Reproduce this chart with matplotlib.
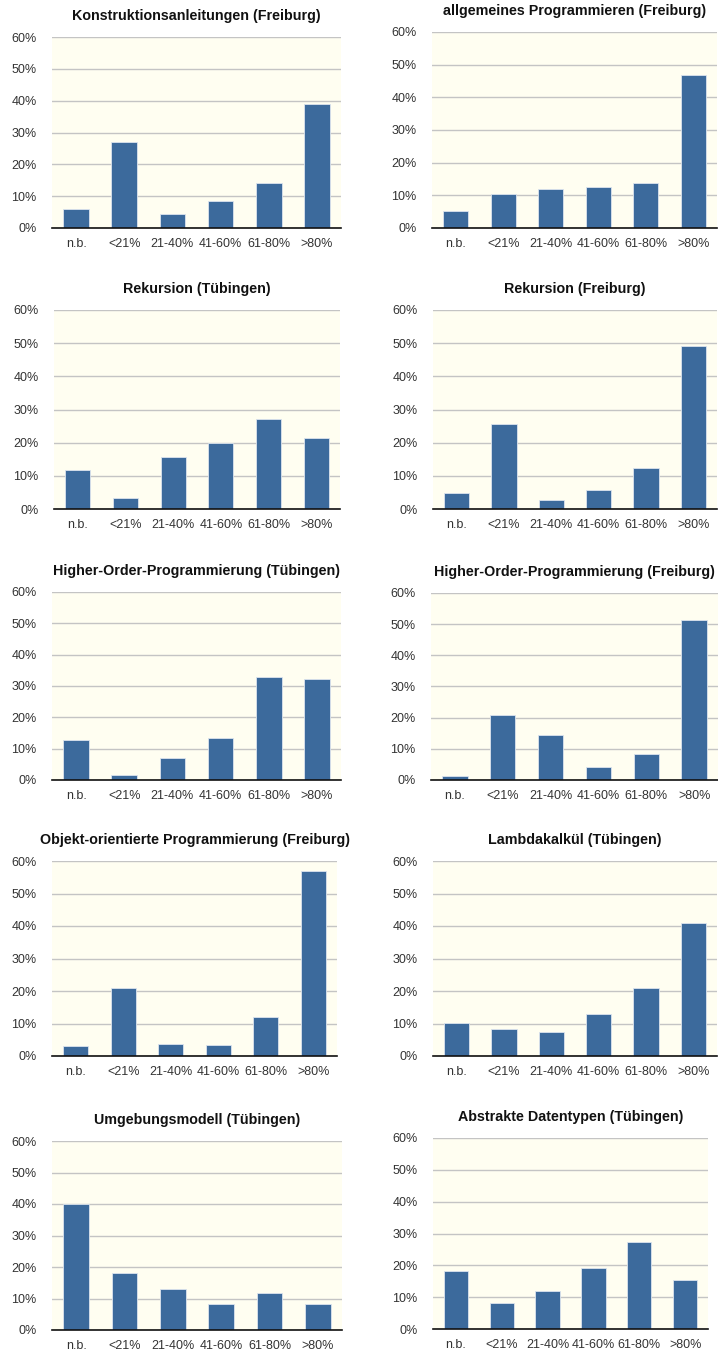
import matplotlib.pyplot as plt
from matplotlib.ticker import FuncFormatter

# categories on the x axis (self-assessed share)
categories = ['n.b.', '<21%', '21-40%', '41-60%', '61-80%', '>80%']

# values in percent
konstruktion_freiburg = [6.1, 27.1, 4.3, 8.6, 14.2, 39.0]
allgemein_freiburg = [5.2, 10.5, 11.9, 12.6, 13.7, 46.7]
rekursion_tuebingen = [11.7, 3.3, 15.6, 19.8, 27.1, 21.5]
rekursion_freiburg = [4.7, 25.5, 2.6, 5.7, 12.4, 49.0]
hop_tuebingen = [12.7, 1.5, 7.1, 13.4, 32.8, 32.1]
hop_freiburg = [1.3, 20.7, 14.4, 4.2, 8.2, 51.4]
oop_freiburg = [3.0, 21.0, 3.7, 3.3, 12.1, 56.8]
lambda_tuebingen = [10.1, 8.3, 7.3, 12.8, 20.9, 40.8]
umgebung_tuebingen = [40.0, 18.0, 13.0, 8.4, 11.6, 8.1]
adt_tuebingen = [18.1, 8.1, 11.9, 19.1, 27.2, 15.4]

titles = ['Konstruktionsanleitungen (Freiburg)', 'allgemeines Programmieren (Freiburg)',
          'Rekursion (Tübingen)', 'Rekursion (Freiburg)',
          'Higher-Order-Programmierung (Tübingen)', 'Higher-Order-Programmierung (Freiburg)',
          'Objekt-orientierte Programmierung (Freiburg)', 'Lambdakalkül (Tübingen)',
          'Umgebungsmodell (Tübingen)', 'Abstrakte Datentypen (Tübingen)']
series = [konstruktion_freiburg, allgemein_freiburg, rekursion_tuebingen, rekursion_freiburg,
          hop_tuebingen, hop_freiburg, oop_freiburg, lambda_tuebingen,
          umgebung_tuebingen, adt_tuebingen]

# axes boxes in pixels: left, right, top, bottom
boxes = [(52, 341, 37, 228), (432, 717, 32, 228),
         (54, 340, 310, 509), (433, 717, 310, 509),
         (52, 341, 592, 780), (431, 718, 593, 780),
         (52, 337, 861, 1056), (433, 717, 861, 1056),
         (52, 342, 1141, 1330), (433, 708, 1138, 1329)]

W, H = 718, 1352
plt.rcParams['font.family'] = ['Liberation Sans', 'DejaVu Sans']
fig = plt.figure(figsize=(W / 100, H / 100), dpi=100)

bar_color = '#3c6a9c'
bg_color = '#fffef1'

for title, vals, (l, r, t, b) in zip(titles, series, boxes):
    ax = fig.add_axes([l / W, 1 - b / H, (r - l) / W, (b - t) / H])
    ax.set_facecolor(bg_color)
    ax.bar(range(len(categories)), vals, width=0.53, color=bar_color,
           edgecolor='#dce4ee', linewidth=0.6, zorder=3)
    ax.set_xlim(-0.5, len(categories) - 0.5)
    ax.set_ylim(0, 60)
    ax.set_yticks(range(0, 61, 10))
    ax.yaxis.set_major_formatter(FuncFormatter(lambda v, p: f'{v:.0f}%'))
    ax.set_xticks(range(len(categories)))
    ax.set_xticklabels(categories)
    ax.grid(axis='y', color='#c4c4c4', linewidth=1.0, zorder=0)
    ax.set_axisbelow(True)
    for s in ['left', 'right', 'top']:
        ax.spines[s].set_visible(False)
    ax.spines['bottom'].set_color('#111111')
    ax.spines['bottom'].set_linewidth(1.2)
    ax.spines['bottom'].set_zorder(4)
    ax.tick_params(axis='y', length=0, pad=11, labelsize=9, labelcolor='#333333')
    ax.tick_params(axis='x', length=0, pad=7, labelsize=9, labelcolor='#333333')
    ax.annotate(title, xy=(0.5, 1), xycoords='axes fraction', xytext=(0, 21 * 0.72),
                textcoords='offset points', ha='center', va='center',
                fontsize=10.3, fontweight='bold', color='#111111', annotation_clip=False)

fig.savefig('out.png', dpi=100)
